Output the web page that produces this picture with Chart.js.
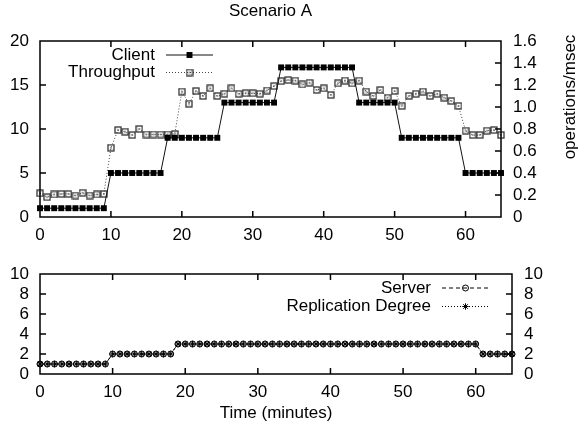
<!DOCTYPE html>
<html>
<head>
<meta charset="utf-8">
<script src="https://cdn.jsdelivr.net/npm/chart.js@4.4.1/dist/chart.umd.min.js"></script>
<style>
  html, body { margin: 0; padding: 0; background: #fff; }
  #wrap { position: relative; width: 580px; height: 430px; }
  #wrap canvas { position: absolute; left: 0; }
</style>
</head>
<body>
<div id="wrap">
  <canvas id="topChart" width="580" height="250" style="top:0"></canvas>
  <canvas id="bottomChart" width="580" height="180" style="top:250px"></canvas>
</div>
<script>
// 시간 (분)
const minutes = [0, 1, 2, 3, 4, 5, 6, 7, 8, 9, 10, 11, 12, 13, 14, 15, 16, 17, 18, 19,
  20, 21, 22, 23, 24, 25, 26, 27, 28, 29, 30, 31, 32, 33, 34, 35, 36, 37, 38, 39,
  40, 41, 42, 43, 44, 45, 46, 47, 48, 49, 50, 51, 52, 53, 54, 55, 56, 57, 58, 59,
  60, 61, 62, 63, 64, 65];

// 위쪽 패널
const client = [1, 1, 1, 1, 1, 1, 1, 1, 1, 1, 5, 5, 5, 5, 5, 5, 5, 5, 9, 9,
  9, 9, 9, 9, 9, 9, 13, 13, 13, 13, 13, 13, 13, 13, 17, 17, 17, 17, 17, 17,
  17, 17, 17, 17, 17, 13, 13, 13, 13, 13, 13, 9, 9, 9, 9, 9, 9, 9, 9, 9,
  5, 5, 5, 5, 5, 5];
const throughput = [0.215, 0.18, 0.205, 0.21, 0.21, 0.195, 0.22, 0.195, 0.205, 0.21,
  0.63, 0.79, 0.775, 0.745, 0.80, 0.75, 0.75, 0.75, 0.75, 0.755,
  1.14, 1.03, 1.145, 1.10, 1.17, 1.10, 1.12, 1.17, 1.12, 1.125,
  1.125, 1.12, 1.15, 1.19, 1.235, 1.245, 1.24, 1.205, 1.22, 1.155,
  1.17, 1.11, 1.215, 1.24, 1.215, 1.24, 1.14, 1.10, 1.155, 1.085,
  1.145, 1.01, 1.10, 1.12, 1.14, 1.10, 1.12, 1.085, 1.055, 1.01,
  0.785, 0.745, 0.745, 0.785, 0.79, 0.745];

// 아래쪽 패널
const server = [1, 1, 1, 1, 1, 1, 1, 1, 1, 1, 2, 2, 2, 2, 2, 2, 2, 2, 2, 3,
  3, 3, 3, 3, 3, 3, 3, 3, 3, 3, 3, 3, 3, 3, 3, 3, 3, 3, 3, 3,
  3, 3, 3, 3, 3, 3, 3, 3, 3, 3, 3, 3, 3, 3, 3, 3, 3, 3, 3, 3,
  3, 2, 2, 2, 2, 2];
const replication = [1, 1, 1, 1, 1, 1, 1, 1, 1, 1, 2, 2, 2, 2, 2, 2, 2, 2, 2, 3,
  3, 3, 3, 3, 3, 3, 3, 3, 3, 3, 3, 3, 3, 3, 3, 3, 3, 3, 3, 3,
  3, 3, 3, 3, 3, 3, 3, 3, 3, 3, 3, 3, 3, 3, 3, 3, 3, 3, 3, 3,
  3, 2, 2, 2, 2, 2];

// 눈금
const timeTicks = [0, 10, 20, 30, 40, 50, 60];
const clientTicks = [0, 5, 10, 15, 20];
const throughputTicks = [0, 0.2, 0.4, 0.6, 0.8, 1, 1.2, 1.4, 1.6];
const serverTicks = [0, 2, 4, 6, 8, 10];

const FONT = "'Liberation Sans', Arial, sans-serif";
Chart.defaults.font.family = FONT;
Chart.defaults.font.size = 17;
Chart.defaults.color = '#000';

function toPoints(values) {
    return minutes.map((m, i) => ({ x: m, y: values[i] }));
}

function fixTicks(list) {
    return scale => { scale.ticks = list.map(v => ({ value: v })); };
}

// 가운데 점이 있는 빈 사각형 마커
function squareMarker() {
    const c = document.createElement('canvas');
    c.width = 8;
    c.height = 8;
    const g = c.getContext('2d');
    g.strokeStyle = '#333';
    g.lineWidth = 1.3;
    g.strokeRect(1, 1, 6, 6);
    g.fillStyle = '#444';
    g.fillRect(3, 3.5, 2, 1);
    return c;
}

// gnuplot 스타일 테두리, 안쪽 눈금, 범례, 제목
const gnuplotFrame = {
    id: 'gnuplotFrame',
    afterDraw(chart, args, opts) {
        const { ctx, chartArea: a, scales } = chart;
        ctx.save();
        ctx.strokeStyle = '#000';
        ctx.lineWidth = 1.5;
        ctx.strokeRect(a.left, a.top, a.right - a.left, a.bottom - a.top);

        const len = 6;
        ctx.beginPath();
        scales.x.ticks.forEach(t => {
            const px = scales.x.getPixelForValue(t.value);
            if (px <= a.left + 1 || px >= a.right - 1) return;
            ctx.moveTo(px, a.bottom); ctx.lineTo(px, a.bottom - len);
            ctx.moveTo(px, a.top); ctx.lineTo(px, a.top + len);
        });
        ['y', 'y2'].forEach(id => {
            const s = scales[id];
            s.ticks.forEach(t => {
                const py = s.getPixelForValue(t.value);
                if (py <= a.top + 1 || py >= a.bottom - 1) return;
                if (id === 'y') { ctx.moveTo(a.left, py); ctx.lineTo(a.left + len, py); }
                else { ctx.moveTo(a.right, py); ctx.lineTo(a.right - len, py); }
            });
        });
        ctx.stroke();

        ctx.font = '17px ' + FONT;
        ctx.fillStyle = '#000';
        ctx.textBaseline = 'middle';

        const lg = opts.legend;
        chart.data.datasets.forEach((ds, i) => {
            const y = lg.y + i * lg.rowGap;
            ctx.textAlign = 'right';
            ctx.fillStyle = '#000';
            ctx.fillText(ds.label, lg.textRight, y);
            ctx.save();
            ctx.strokeStyle = ds.borderColor;
            ctx.lineWidth = ds.borderWidth;
            ctx.setLineDash(ds.borderDash || []);
            ctx.beginPath();
            ctx.moveTo(lg.x1, y);
            ctx.lineTo(lg.x2, y);
            ctx.stroke();
            ctx.setLineDash([]);
            ctx.fillStyle = ds.pointBackgroundColor;
            ctx.strokeStyle = ds.pointBorderColor;
            ctx.lineWidth = ds.pointBorderWidth;
            Chart.helpers.drawPoint(ctx, {
                pointStyle: ds.pointStyle,
                radius: ds.pointRadius,
                rotation: 0,
                borderWidth: ds.pointBorderWidth
            }, (lg.x1 + lg.x2) / 2, y);
            ctx.restore();
        });

        if (opts.title) {
            ctx.textAlign = 'center';
            ctx.fillText(opts.title, (a.left + a.right) / 2, opts.titleY);
        }
        if (opts.y2Label) {
            ctx.save();
            ctx.translate(opts.y2Label.x, opts.y2Label.y);
            ctx.rotate(-Math.PI / 2);
            ctx.textAlign = 'center';
            ctx.fillText(opts.y2Label.text, 0, 0);
            ctx.restore();
        }
        ctx.restore();
    }
};

function axis(extra) {
    const base = {
        type: 'linear',
        grid: { display: false, drawTicks: false },
        border: { display: false }
    };
    const out = Object.assign(base, extra);
    out.ticks = Object.assign({ autoSkip: false, maxRotation: 0 }, extra.ticks);
    return out;
}

new Chart(document.getElementById('topChart'), {
    type: 'line',
    data: {
        datasets: [
            {
                label: 'Client',
                data: toPoints(client),
                yAxisID: 'y',
                borderColor: '#111',
                borderWidth: 1,
                pointStyle: 'rect',
                pointRadius: 4.2,
                pointBackgroundColor: '#000',
                pointBorderColor: '#000',
                pointBorderWidth: 0,
                clip: false
            },
            {
                label: 'Throughput',
                data: toPoints(throughput),
                yAxisID: 'y2',
                borderColor: '#444',
                borderWidth: 1,
                borderDash: [1, 2],
                pointStyle: squareMarker(),
                pointRadius: 4,
                pointBackgroundColor: '#fff',
                pointBorderColor: '#333',
                pointBorderWidth: 1,
                clip: false
            }
        ]
    },
    options: {
        responsive: false,
        animation: false,
        layout: { padding: { top: 41, left: 0, right: 0, bottom: 0 } },
        plugins: {
            legend: { display: false },
            tooltip: { enabled: false },
            gnuplotFrame: {
                legend: { textRight: 155, x1: 166, x2: 213, y: 55, rowGap: 17.5 },
                title: 'Scenario A',
                titleY: 11,
                y2Label: { text: 'operations/msec', x: 570, y: 97 }
            }
        },
        scales: {
            x: axis({ min: 0, max: 65, ticks: { padding: 8 },
                afterBuildTicks: fixTicks(timeTicks), afterFit: s => { s.height = 33; } }),
            y: axis({ position: 'left', min: 0, max: 20, ticks: { padding: 11 },
                afterBuildTicks: fixTicks(clientTicks), afterFit: s => { s.width = 40; } }),
            y2: axis({ position: 'right', min: 0, max: 1.6, ticks: { padding: 12 },
                afterBuildTicks: fixTicks(throughputTicks), afterFit: s => { s.width = 79; } })
        }
    },
    plugins: [gnuplotFrame]
});

new Chart(document.getElementById('bottomChart'), {
    type: 'line',
    data: {
        datasets: [
            {
                label: 'Server',
                data: toPoints(server),
                yAxisID: 'y',
                borderColor: '#000',
                borderWidth: 1,
                borderDash: [4, 3],
                pointStyle: 'circle',
                pointRadius: 3,
                pointBackgroundColor: 'rgba(0,0,0,0)',
                pointBorderColor: '#000',
                pointBorderWidth: 1,
                clip: false
            },
            {
                label: 'Replication Degree',
                data: toPoints(replication),
                yAxisID: 'y',
                borderColor: '#000',
                borderWidth: 1,
                borderDash: [1, 2],
                pointStyle: 'star',
                pointRadius: 3.2,
                pointBackgroundColor: '#000',
                pointBorderColor: '#000',
                pointBorderWidth: 1,
                clip: false
            }
        ]
    },
    options: {
        responsive: false,
        animation: false,
        layout: { padding: { top: 24, left: 0, right: 0, bottom: 0 } },
        plugins: {
            legend: { display: false },
            tooltip: { enabled: false },
            gnuplotFrame: {
                legend: { textRight: 431, x1: 442, x2: 489, y: 38, rowGap: 18.5 }
            }
        },
        scales: {
            x: axis({ min: 0, max: 65, ticks: { padding: 8 },
                title: { display: true, text: 'Time (minutes)', padding: { top: 0, bottom: 6 } },
                afterBuildTicks: fixTicks(timeTicks), afterFit: s => { s.height = 56; } }),
            y: axis({ position: 'left', min: 0, max: 10, ticks: { padding: 11 },
                afterBuildTicks: fixTicks(serverTicks), afterFit: s => { s.width = 40; } }),
            y2: axis({ position: 'right', min: 0, max: 10, ticks: { padding: 12 },
                afterBuildTicks: fixTicks(serverTicks), afterFit: s => { s.width = 68; } })
        }
    },
    plugins: [gnuplotFrame]
});
</script>
</body>
</html>
